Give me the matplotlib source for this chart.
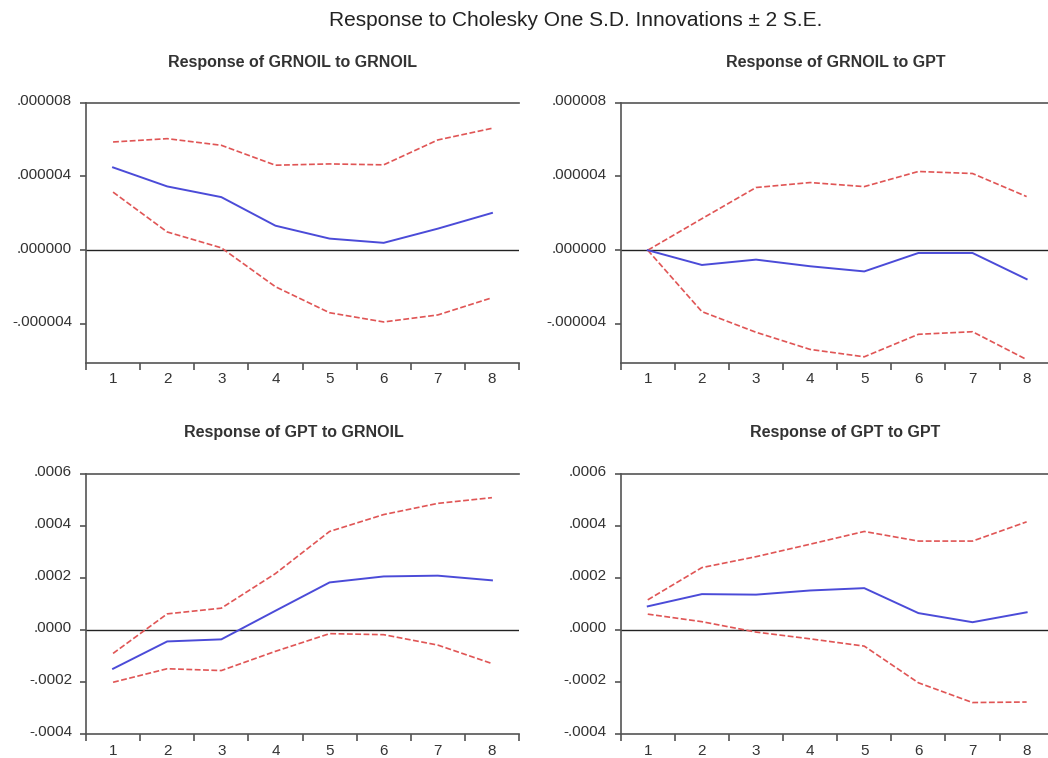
import matplotlib
matplotlib.use("Agg")
import matplotlib.pyplot as plt
from matplotlib.ticker import FuncFormatter, FixedLocator
from matplotlib.transforms import ScaledTranslation

plt.rcParams['font.family'] = ['Liberation Sans', 'DejaVu Sans']

periods = [1, 2, 3, 4, 5, 6, 7, 8]

# Response of GRNOIL to GRNOIL
oil_oil = [4.49e-6, 3.46e-6, 2.88e-6, 1.33e-6, 0.63e-6, 0.40e-6, 1.17e-6, 2.02e-6]
oil_oil_up = [5.87e-6, 6.05e-6, 5.69e-6, 4.61e-6, 4.68e-6, 4.63e-6, 5.98e-6, 6.61e-6]
oil_oil_lo = [3.15e-6, 0.99e-6, 0.13e-6, -1.98e-6, -3.39e-6, -3.89e-6, -3.51e-6, -2.58e-6]

# Response of GRNOIL to GPT
oil_gpt = [0.0, -0.80e-6, -0.51e-6, -0.87e-6, -1.15e-6, -0.15e-6, -0.15e-6, -1.57e-6]
oil_gpt_up = [0.0, 1.71e-6, 3.40e-6, 3.67e-6, 3.45e-6, 4.27e-6, 4.16e-6, 2.91e-6]
oil_gpt_lo = [0.0, -3.33e-6, -4.45e-6, -5.38e-6, -5.78e-6, -4.56e-6, -4.42e-6, -5.93e-6]

# Response of GPT to GRNOIL
gpt_oil = [-1.49e-4, -0.44e-4, -0.36e-4, 0.74e-4, 1.83e-4, 2.06e-4, 2.09e-4, 1.91e-4]
gpt_oil_up = [-0.90e-4, 0.62e-4, 0.84e-4, 2.17e-4, 3.79e-4, 4.44e-4, 4.87e-4, 5.09e-4]
gpt_oil_lo = [-2.01e-4, -1.49e-4, -1.56e-4, -0.82e-4, -0.14e-4, -0.18e-4, -0.58e-4, -1.29e-4]

# Response of GPT to GPT
gpt_gpt = [0.91e-4, 1.38e-4, 1.36e-4, 1.52e-4, 1.61e-4, 0.65e-4, 0.30e-4, 0.68e-4]
gpt_gpt_up = [1.16e-4, 2.40e-4, 2.82e-4, 3.30e-4, 3.79e-4, 3.42e-4, 3.42e-4, 4.16e-4]
gpt_gpt_lo = [0.61e-4, 0.32e-4, -0.08e-4, -0.34e-4, -0.62e-4, -2.03e-4, -2.79e-4, -2.77e-4]

titles = ["Response of GRNOIL to GRNOIL", "Response of GRNOIL to GPT",
          "Response of GPT to GRNOIL", "Response of GPT to GPT"]
top_ticks = [-0.000004, 0.0, 0.000004, 0.000008]
bot_ticks = [-0.0004, -0.0002, 0.0, 0.0002, 0.0004, 0.0006]

panels = [
    (oil_oil, oil_oil_up, oil_oil_lo, top_ticks, (-0.0000061, 0.000008), 6),
    (oil_gpt, oil_gpt_up, oil_gpt_lo, top_ticks, (-0.0000061, 0.000008), 6),
    (gpt_oil, gpt_oil_up, gpt_oil_lo, bot_ticks, (-0.0004, 0.0006), 4),
    (gpt_gpt, gpt_gpt_up, gpt_gpt_lo, bot_ticks, (-0.0004, 0.0006), 4),
]

W, H = 1048, 758
fig = plt.figure(figsize=(W / 100, H / 100), dpi=100)

boxes = [(86, 102.7), (620.7, 102.7), (86, 474), (620.7, 474)]
title_pos = [(293, 62), (836, 62), (294, 433), (845, 433)]
bw, bh = 433, 260

def make_fmt(nd):
    def f(v, pos):
        s = f"{v:.{nd}f}"
        if s.startswith("-0."):
            s = "-" + s[2:]
        elif s.startswith("0."):
            s = s[1:]
        return s
    return f

spine_col = '#555555'
text_col = '#333333'
for (x0, y0), (resp, up, lo, yt, ylim, nd), title, (tx, ty) in zip(boxes, panels, titles, title_pos):
    ax = fig.add_axes([x0 / W, 1 - (y0 + bh) / H, bw / W, bh / H])
    ax.set_xlim(0.5, 8.5)
    ax.set_ylim(*ylim)
    ax.axhline(0, color='#222222', lw=1.0, zorder=1)
    ax.plot(periods, up, color='#e05555', lw=1.2, ls=(0, (3.5, 1.5)), zorder=2)
    ax.plot(periods, lo, color='#e05555', lw=1.2, ls=(0, (3.5, 1.5)), zorder=2)
    ax.plot(periods, resp, color='#4b4bd8', lw=1.4, zorder=3)
    ax.spines['right'].set_visible(False)
    for s in ['left', 'top', 'bottom']:
        ax.spines[s].set_color(spine_col)
        ax.spines[s].set_linewidth(1.2)
    ax.set_yticks(yt)
    ax.yaxis.set_major_formatter(FuncFormatter(make_fmt(nd)))
    ax.set_xticks(periods)
    ax.xaxis.set_minor_locator(FixedLocator([p + 0.5 for p in [0] + periods]))
    ax.tick_params(axis='x', which='major', length=0, pad=7, labelsize=11, labelcolor=text_col)
    ax.tick_params(axis='x', which='minor', length=5, width=1.2, color=spine_col, direction='out')
    ax.tick_params(axis='y', which='major', length=4, width=1.2, color=spine_col, pad=6,
                   labelsize=11, labelcolor=text_col, direction='out')
    off = ScaledTranslation(0, 3 / 100, fig.dpi_scale_trans)
    for lab in ax.get_yticklabels():
        lab.set_transform(lab.get_transform() + off)
    fig.text(tx / W, 1 - ty / H, title, ha='center', va='center', fontsize=11.5,
             fontweight='bold', color='#333333')

fig.text(576 / W, 1 - 20 / H, "Response to Cholesky One S.D. Innovations \u00b1 2 S.E.",
         ha='center', va='center', fontsize=15, color='#222222')

fig.savefig("out.png", dpi=100)
